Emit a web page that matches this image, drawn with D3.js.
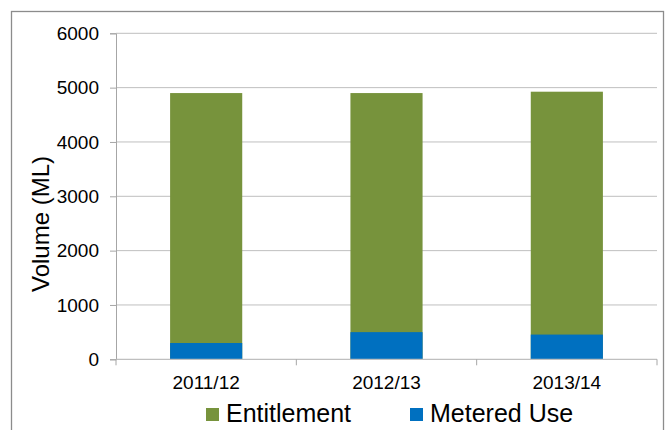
<!DOCTYPE html>
<html lang="en">
<head>
  <meta charset="UTF-8">
  <title>Entitlement vs Metered Use</title>
  <script src="https://d3js.org/d3.v7.min.js"></script>
  <style>
    body { margin: 0; background: #fff; font-family: Arial, "Liberation Sans", sans-serif; }
    .tick text { fill: #000; }
  </style>
</head>
<body>
  <div id="viz"></div>
  <script>
    // Data
    const years = ['2011/12', '2012/13', '2013/14'];
    const entitlement = [4900, 4900, 4925];
    const meteredUse = [300, 500, 455];
    const yTicks = [0, 1000, 2000, 3000, 4000, 5000, 6000];
    const seriesNames = ['Entitlement', 'Metered Use'];
    const seriesColors = ['#77933C', '#0070C0'];

    const width = 667, height = 430;
    const margin = {top: 33.3, right: 10, bottom: 70.7, left: 116};

    const svg = d3.select('#viz')
      .append('svg')
      .attr('width', width)
      .attr('height', height);

    // Outer frame
    svg.append('rect')
      .attr('x', 11.5).attr('y', 11.5)
      .attr('width', 652).attr('height', 440)
      .attr('fill', 'none')
      .attr('stroke', '#8c8c8c')
      .attr('stroke-width', 1.3);

    // Scales
    const x = d3.scaleBand()
      .domain(years)
      .range([margin.left, 657])
      .paddingInner(0.6)
      .paddingOuter(0.3);

    const y = d3.scaleLinear()
      .domain([0, 6000])
      .range([height - margin.bottom, margin.top]);

    // Gridlines
    svg.append('g')
      .selectAll('line')
      .data(yTicks.filter(d => d > 0))
      .join('line')
      .attr('x1', margin.left).attr('x2', 657)
      .attr('y1', d => y(d)).attr('y2', d => y(d))
      .attr('stroke', '#bfbfbf')
      .attr('stroke-width', 1);

    // Y axis
    svg.append('g')
      .attr('transform', `translate(${margin.left},0)`)
      .call(d3.axisLeft(y).tickValues(yTicks).tickFormat(d3.format('d')).tickSize(6).tickPadding(11))
      .call(g => g.select('.domain').attr('stroke', '#a6a6a6'))
      .call(g => g.selectAll('.tick line').attr('stroke', '#a6a6a6'))
      .call(g => g.selectAll('.tick text')
        .attr('font-size', 19)
        .attr('font-family', 'Arial, "Liberation Sans", sans-serif'));

    // Bars: Entitlement behind, Metered Use in front
    svg.append('g')
      .selectAll('rect')
      .data(years)
      .join('rect')
      .attr('x', d => x(d))
      .attr('width', x.bandwidth())
      .attr('y', (d, i) => y(entitlement[i]))
      .attr('height', (d, i) => y(0) - y(entitlement[i]))
      .attr('fill', seriesColors[0]);

    svg.append('g')
      .selectAll('rect')
      .data(years)
      .join('rect')
      .attr('x', d => x(d))
      .attr('width', x.bandwidth())
      .attr('y', (d, i) => y(meteredUse[i]))
      .attr('height', (d, i) => y(0) - y(meteredUse[i]))
      .attr('fill', seriesColors[1]);

    // X axis (category boundaries get ticks)
    const xAxisG = svg.append('g')
      .attr('transform', `translate(0,${y(0)})`);
    xAxisG.append('line')
      .attr('x1', margin.left).attr('x2', 657)
      .attr('stroke', '#bfbfbf').attr('stroke-width', 1.3);
    const step = x.step();
    const bounds = d3.range(years.length + 1).map(i => margin.left + i * step);
    xAxisG.selectAll('.bt')
      .data(bounds)
      .join('line')
      .attr('class', 'bt')
      .attr('x1', d => d).attr('x2', d => d)
      .attr('y1', 0).attr('y2', 6)
      .attr('stroke', '#a6a6a6');
    xAxisG.selectAll('text')
      .data(years)
      .join('text')
      .attr('x', d => x(d) + x.bandwidth() / 2)
      .attr('y', 30)
      .attr('text-anchor', 'middle')
      .attr('font-size', 19)
      .attr('fill', '#000')
      .text(d => d);

    // Y axis title
    svg.append('text')
      .attr('transform', 'translate(49,224) rotate(-90)')
      .attr('text-anchor', 'middle')
      .attr('font-size', 24)
      .attr('fill', '#000')
      .text('Volume (ML)');

    // Legend
    const legendX = [206, 410];
    const legend = svg.append('g');
    seriesNames.forEach((name, i) => {
      legend.append('rect')
        .attr('x', legendX[i]).attr('y', 408)
        .attr('width', 13).attr('height', 13)
        .attr('fill', seriesColors[i]);
      legend.append('text')
        .attr('x', legendX[i] + 20).attr('y', 422)
        .attr('font-size', 25)
        .attr('fill', '#000')
        .text(name);
    });
  </script>
</body>
</html>
